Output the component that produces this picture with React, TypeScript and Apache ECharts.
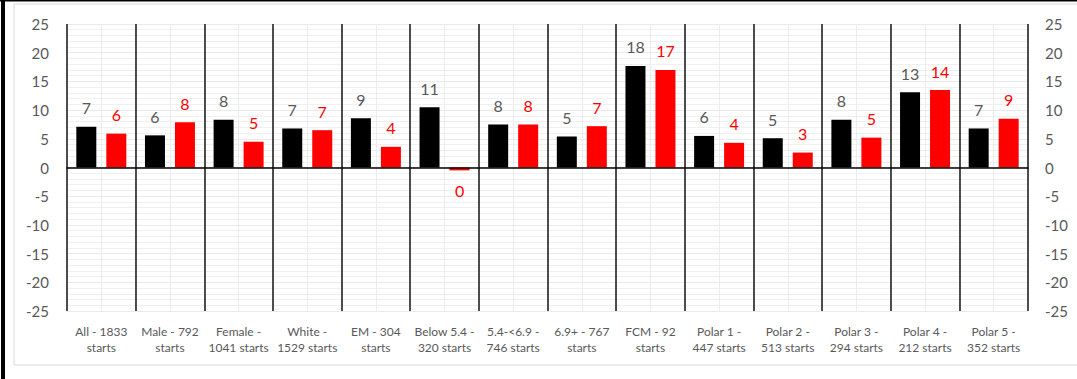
import React, { useEffect, useRef } from "react";
import * as echarts from "echarts";

const categories = [
  "All - 1833\nstarts",
  "Male - 792\nstarts",
  "Female -\n1041 starts",
  "White -\n1529 starts",
  "EM - 304\nstarts",
  "Below 5.4 -\n320 starts",
  "5.4-<6.9 -\n746 starts",
  "6.9+ - 767\nstarts",
  "FCM - 92\nstarts",
  "Polar 1 -\n447 starts",
  "Polar 2 -\n513 starts",
  "Polar 3 -\n294 starts",
  "Polar 4 -\n212 starts",
  "Polar 5 -\n352 starts",
];

const blackValues = [7.1, 5.6, 8.3, 6.8, 8.6, 10.5, 7.5, 5.4, 17.7, 5.5, 5.1, 8.3, 13.1, 6.8];
const redValues = [5.9, 7.9, 4.5, 6.5, 3.6, -0.5, 7.5, 7.2, 17.0, 4.3, 2.6, 5.2, 13.5, 8.5];

const yMin = -25;
const yMax = 25;
const yStep = 5;

const FONT = "Lato";

function fmt(v: number): string {
  const r = Math.round(v);
  return String(r === 0 ? 0 : r);
}

function toData(values: number[]) {
  return values.map((v) =>
    v < 0
      ? { value: v, label: { position: "bottom" as const, distance: 12 } }
      : { value: v }
  );
}

export default function App() {
  const ref = useRef<HTMLDivElement>(null);

  useEffect(() => {
    if (!ref.current) return;
    const chart = echarts.init(ref.current, undefined, { renderer: "svg" });
    const yAxisCommon = {
      type: "value" as const,
      min: yMin,
      max: yMax,
      interval: yStep,
      axisLine: { show: false },
      axisTick: { show: false },
      axisLabel: { color: "#595959", fontSize: 15, fontFamily: FONT },
    };
    chart.setOption({
      animation: false,
      backgroundColor: "#ffffff",
      graphic: [
        { type: "rect", shape: { x: 14, y: 4, width: 1090, height: 361 }, style: { fill: "none", stroke: "#d9d9d9", lineWidth: 1 }, z: -1 },
        { type: "rect", shape: { x: 1, y: 0, width: 4, height: 379 }, style: { fill: "#000000" } },
        { type: "rect", shape: { x: 0, y: 0, width: 1077, height: 1.5 }, style: { fill: "#000000" } },
      ],
      grid: { left: 67, right: 49, top: 24, bottom: 68, containLabel: false },
      xAxis: [
        {
          type: "category",
          data: categories,
          z: 5,
          axisLine: { show: true, onZero: true, lineStyle: { color: "#000000", width: 1.5 } },
          axisTick: { show: false },
          splitLine: { show: true, lineStyle: { color: "#222222", width: 1.6 } },
          axisLabel: {
            interval: 0,
            color: "#595959",
            fontSize: 12,
            fontFamily: FONT,
            lineHeight: 16,
            margin: 12,
          },
        },
        {
          type: "value",
          min: 0,
          max: categories.length * 2,
          interval: 1,
          position: "top",
          z: 0,
          axisLine: { show: false },
          axisTick: { show: false },
          axisLabel: { show: false },
          splitLine: { show: true, lineStyle: { color: "#ececec", width: 1 } },
        },
      ],
      yAxis: [
        {
          ...yAxisCommon,
          position: "left",
          axisLabel: { ...yAxisCommon.axisLabel, margin: 18 },
          splitLine: { show: true, lineStyle: { color: "#eaeaea", width: 1 } },
          minorTick: { show: false, splitNumber: 5 },
          minorSplitLine: { show: true, lineStyle: { color: "#f0f0f0", width: 1 } },
        },
        {
          ...yAxisCommon,
          position: "right",
          axisLabel: { ...yAxisCommon.axisLabel, margin: 17 },
          splitLine: { show: false },
        },
      ],
      series: [
        {
          type: "bar",
          name: "Black",
          data: toData(blackValues),
          barWidth: 20,
          barGap: "50%",
          itemStyle: { color: "#000000" },
          label: {
            show: true,
            position: "top",
            distance: 11,
            color: "#595959",
            fontSize: 16,
            fontFamily: FONT,
            formatter: (p: any) => fmt(p.value),
          },
        },
        {
          type: "bar",
          name: "Red",
          data: toData(redValues),
          barWidth: 20,
          itemStyle: { color: "#ff0000" },
          label: {
            show: true,
            position: "top",
            distance: 11,
            color: "#ff0000",
            fontSize: 16,
            fontFamily: FONT,
            formatter: (p: any) => fmt(p.value),
          },
        },
      ],
    });
    return () => chart.dispose();
  }, []);

  return (
    <div
      ref={ref}
      style={{ position: "absolute", left: 0, top: 0, width: 1077, height: 379 }}
    />
  );
}
